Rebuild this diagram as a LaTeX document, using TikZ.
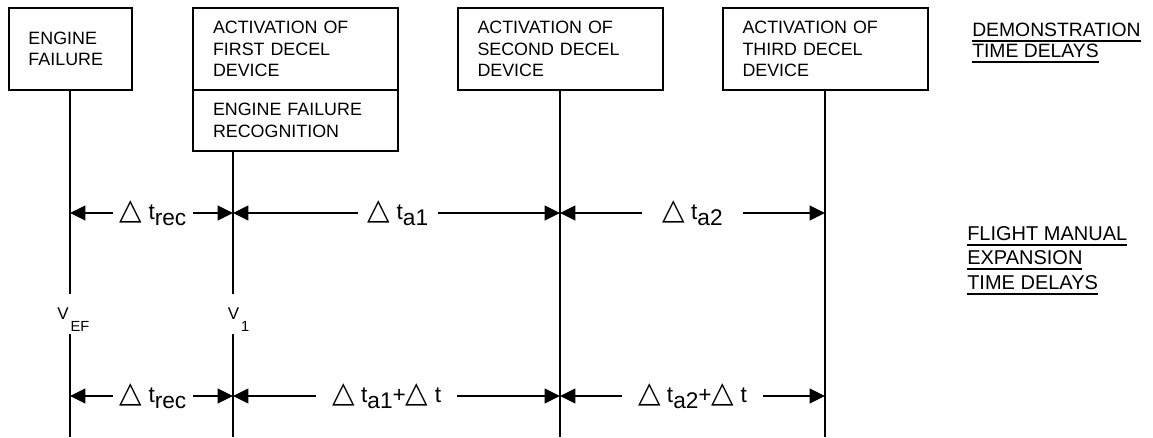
\documentclass[tikz,border=0pt]{standalone}
\usepackage{fontspec}
\setmainfont{Liberation Sans}
\newfontfamily\symfont{DejaVu Sans}
\usetikzlibrary{arrows.meta}

\newcommand{\tri}{{\symfont\fontsize{22pt}{22pt}\selectfont △}}
\newcommand{\lowsub}[1]{\raisebox{-4.7pt}{#1}}
\newcommand{\vsub}[1]{\hspace{1.5pt}\raisebox{-9pt}{\fontsize{11pt}{11pt}\selectfont #1}}
\newcommand{\ulab}[1]{\setbox0\hbox{#1}\rlap{\rule[-4.2pt]{\wd0}{1.5pt}}\box0}

\tikzset{box/.style={draw, line width=1.5pt, align=left, inner xsep=15pt, font=\fontsize{13.4pt}{16.1pt}\selectfont}}
\tikzset{edge/.style={line width=1.5pt}}
\tikzset{tip/.style={line width=1.5pt, -{Triangle[length=11.5pt,width=11pt]}}}
\tikzset{lbl/.style={inner xsep=0pt, inner ysep=1pt, font=\fontsize{17pt}{20pt}\selectfont}}
\tikzset{note/.style={anchor=base west, align=left, inner sep=0pt}}

\begin{document}
\begin{tikzpicture}[x=0.75pt, y=-0.75pt]
        \useasboundingbox (0,0) rectangle (1153,437);

        % event boxes
        \node[box, text width=62.25pt, minimum height=61.5pt] (Na) at (70, 49) {ENGINE\\FAILURE};
        \node[box, text width=123.75pt, minimum height=61.5pt] (Nb) at (295.5, 49) {ACTIVATION OF\\FIRST DECEL\\DEVICE};
        \node[box, text width=123.75pt, minimum height=45.75pt] (Nr) at (295.5, 120.5) {ENGINE FAILURE\\RECOGNITION};
        \node[box, text width=123.75pt, minimum height=61.5pt] (Nc) at (560, 49) {ACTIVATION OF\\SECOND DECEL\\DEVICE};
        \node[box, text width=123.75pt, minimum height=61.5pt] (Nd) at (825, 49) {ACTIVATION OF\\THIRD DECEL\\DEVICE};

        % time lines
        \coordinate (G1a) at (70, 294);
        \coordinate (G1b) at (70, 334);
        \coordinate (E1) at (70, 437);
        \coordinate (G2a) at (233, 294);
        \coordinate (G2b) at (233, 334);
        \coordinate (E2) at (233, 437);
        \coordinate (E3) at (560, 437);
        \coordinate (E4) at (825, 437);

        \draw [edge] (Na.south) -- (G1a);
        \draw [edge] (G1b) -- (E1);
        \draw [edge] (Nr.south -| G2a) -- (G2a);
        \draw [edge] (G2b) -- (E2);
        \draw [edge] (Nc.south) -- (E3);
        \draw [edge] (Nd.south) -- (E4);

        \node[note, font=\fontsize{12.75pt}{13pt}\selectfont] (Vef) at (57, 319) {V\vsub{EF}};
        \node[note, font=\fontsize{12.75pt}{13pt}\selectfont] (Vone) at (227.5, 319) {V\vsub{1}};

        % demonstration delays
        \coordinate (U1) at (70, 213);
        \coordinate (U2) at (233, 213);
        \coordinate (U3) at (560, 213);
        \coordinate (U4) at (825, 213);

        \node[lbl, minimum width=60pt] (Trec) at (153, 213) {\tri{} t\lowsub{rec}};
        \node[lbl, minimum width=60pt] (Tai) at (398, 213) {\tri{} t\lowsub{a1}};
        \node[lbl, minimum width=75.75pt] (Taii) at (692.5, 213) {\tri{} t\lowsub{a2}};

        \draw [tip] (Trec.west) -- (U1);
        \draw [tip] (Trec.east) -- (U2);
        \draw [tip] (Tai.west) -- (U2);
        \draw [tip] (Tai.east) -- (U3);
        \draw [tip] (Taii.west) -- (U3);
        \draw [tip] (Taii.east) -- (U4);

        % flight manual delays
        \coordinate (L1) at (70, 396);
        \coordinate (L2) at (233, 396);
        \coordinate (L3) at (560, 396);
        \coordinate (L4) at (825, 396);

        \node[lbl, minimum width=60pt] (Mrec) at (153, 396) {\tri{} t\lowsub{rec}};
        \node[lbl, minimum width=105pt] (Mai) at (386.7, 396) {\tri{} t\lowsub{a1}+\tri{} t\hspace{9pt}};
        \node[lbl, minimum width=105.75pt] (Maii) at (692.5, 396) {\tri{} t\lowsub{a2}+\tri{} t\hspace{5pt}};

        \draw [tip] (Mrec.west) -- (L1);
        \draw [tip] (Mrec.east) -- (L2);
        \draw [tip] (Mai.west) -- (L2);
        \draw [tip] (Mai.east) -- (L3);
        \draw [tip] (Maii.west) -- (L3);
        \draw [tip] (Maii.east) -- (L4);

        % row titles
        \node[note, font=\fontsize{14.5pt}{15.6pt}\selectfont] (Demo) at (972, 57) {\ulab{DEMONSTRATION}\\\ulab{TIME DELAYS}};
        \node[note, font=\fontsize{15pt}{18.2pt}\selectfont] (Flight) at (967, 289) {\ulab{FLIGHT MANUAL}\\\ulab{EXPANSION}\\\ulab{TIME DELAYS}};

    \end{tikzpicture}
\end{document}
